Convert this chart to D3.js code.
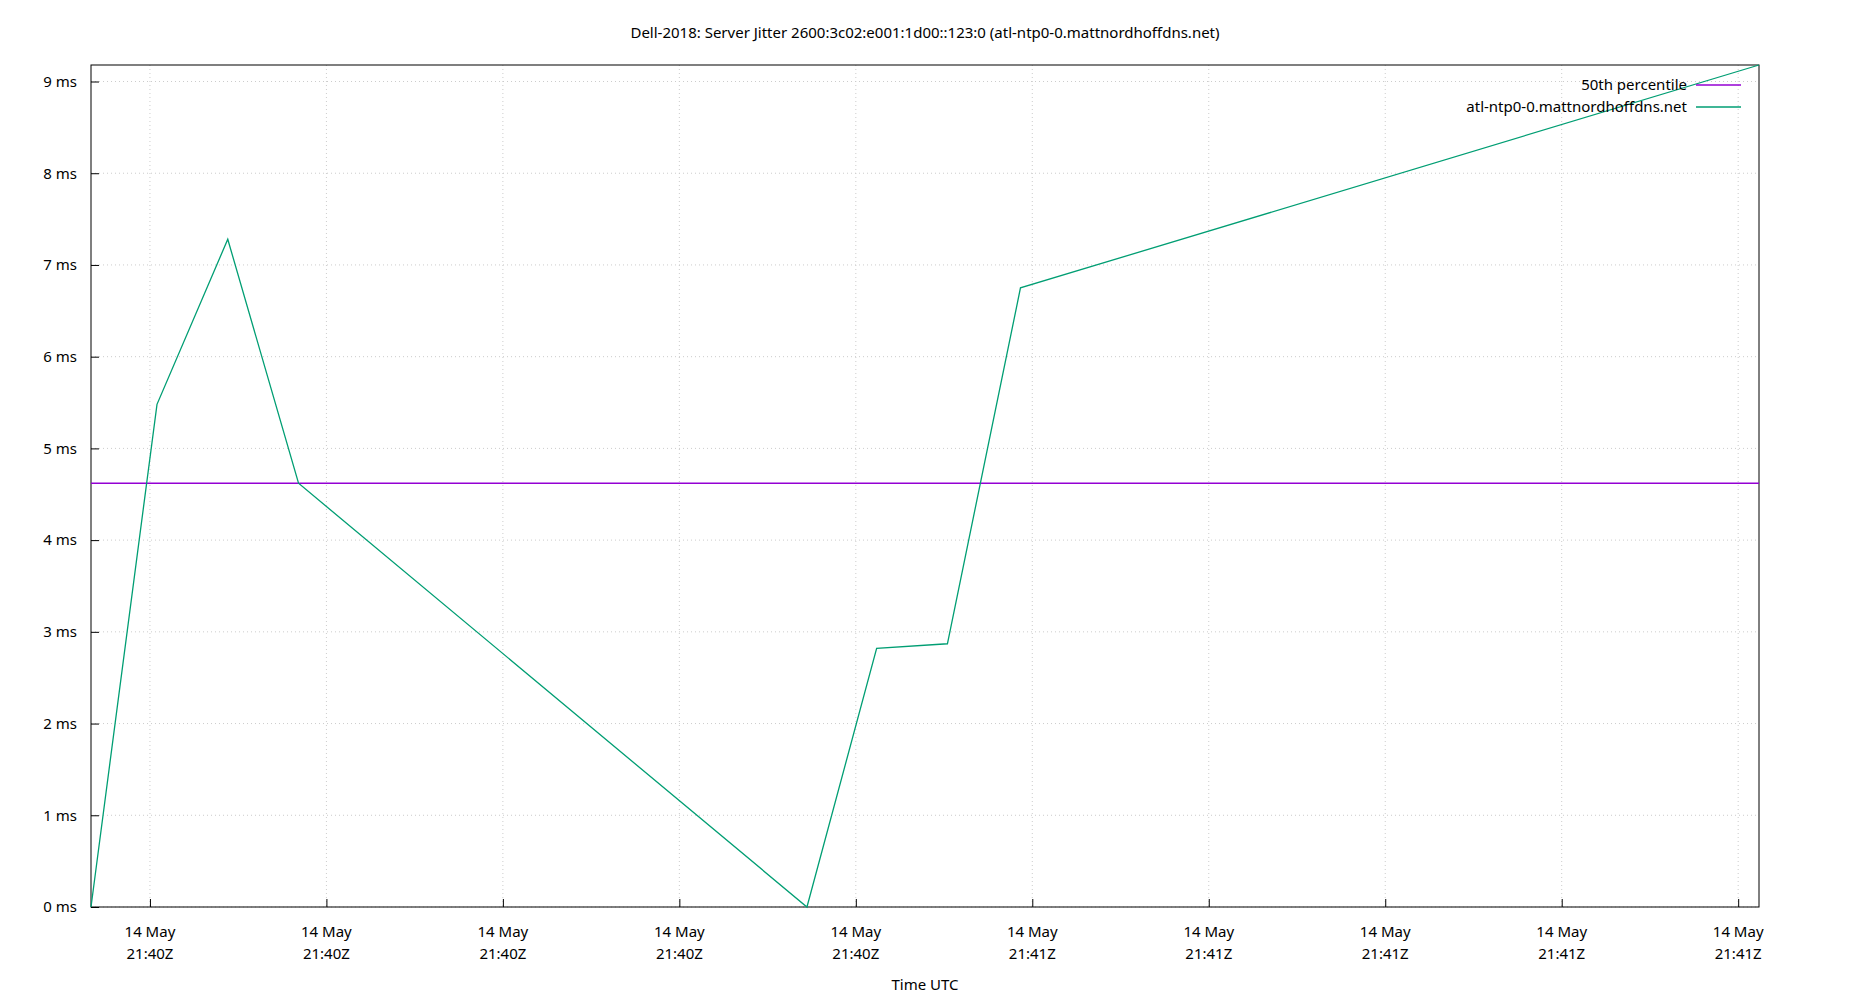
<!DOCTYPE html><html><head><meta charset="utf-8"><script src="https://cdn.jsdelivr.net/npm/d3@7"></script>
<style>body{margin:0;background:#fff}text{font-family:"Noto Sans",sans-serif;fill:#000}</style></head><body><svg width="1850" height="1000"></svg><script>
const times=[-3.34,0.4,4.41,8.42,37.23,41.18,45.19,49.33,91.18];
const jitter=[0,5.48,7.28,4.62,0,2.82,2.87,6.75,9.18];
const median=4.62;
const xTicks=[0,10,20,30,40,50,60,70,80,90];
const xTickLabels=["21:40Z","21:40Z","21:40Z","21:40Z","21:40Z","21:41Z","21:41Z","21:41Z","21:41Z","21:41Z"];
const yTicks=[0,1,2,3,4,5,6,7,8,9];
const svg=d3.select("svg"),L=91,R=1759,T=65,B=907;
const x=d3.scaleLinear().domain([-3.34,91.18]).range([L,R]);
const y=d3.scaleLinear().domain([0,9.18]).range([B,T]);
const g=svg.append("g");
xTicks.forEach(t=>g.append("line").attr("x1",x(t)).attr("x2",x(t)).attr("y1",T).attr("y2",B).attr("stroke","#ccc").attr("stroke-dasharray","1,3"));
yTicks.forEach(t=>g.append("line").attr("x1",L).attr("x2",R).attr("y1",y(t)).attr("y2",y(t)).attr("stroke","#ccc").attr("stroke-dasharray","1,3"));
const ya=svg.append("g").attr("transform",`translate(${L},0)`).call(d3.axisLeft(y).tickValues(yTicks).tickFormat(d=>d+" ms").tickSize(-8).tickPadding(14));
ya.selectAll("text").style("font-size","15px");
const xa=svg.append("g").attr("transform",`translate(0,${B})`).call(d3.axisBottom(x).tickValues(xTicks).tickFormat("").tickSize(-8));
xa.selectAll(".domain").remove();ya.selectAll(".domain").remove();
xTicks.forEach((t,i)=>{const tx=svg.append("text").attr("x",x(t)).attr("y",B+30).attr("text-anchor","middle").style("font-size","15px");
tx.append("tspan").attr("x",x(t)).text("14 May");tx.append("tspan").attr("x",x(t)).attr("dy",22).text(xTickLabels[i]);});
svg.append("rect").attr("x",L).attr("y",T).attr("width",R-L).attr("height",B-T).attr("fill","none").attr("stroke","#000");
svg.append("line").attr("x1",L).attr("x2",R).attr("y1",y(median)).attr("y2",y(median)).attr("stroke","#9400d3").attr("stroke-width",1.3);
svg.append("path").datum(times.map((t,i)=>[t,jitter[i]])).attr("d",d3.line().x(d=>x(d[0])).y(d=>y(d[1]))).attr("fill","none").attr("stroke","#009e73").attr("stroke-width",1.3);
svg.append("text").attr("x",925).attr("y",38).attr("text-anchor","middle").style("font-size","15px").text("Dell-2018: Server Jitter 2600:3c02:e001:1d00::123:0 (atl-ntp0-0.mattnordhoffdns.net)");
svg.append("text").attr("x",925).attr("y",990).attr("text-anchor","middle").style("font-size","15px").text("Time UTC");
[["50th percentile","#9400d3",85],["atl-ntp0-0.mattnordhoffdns.net","#009e73",107]].forEach(([n,c,yy])=>{
svg.append("text").attr("x",1687).attr("y",yy+5).attr("text-anchor","end").style("font-size","15px").text(n);
svg.append("line").attr("x1",1696).attr("x2",1741).attr("y1",yy).attr("y2",yy).attr("stroke",c).attr("stroke-width",1.3);});
</script></body></html>
